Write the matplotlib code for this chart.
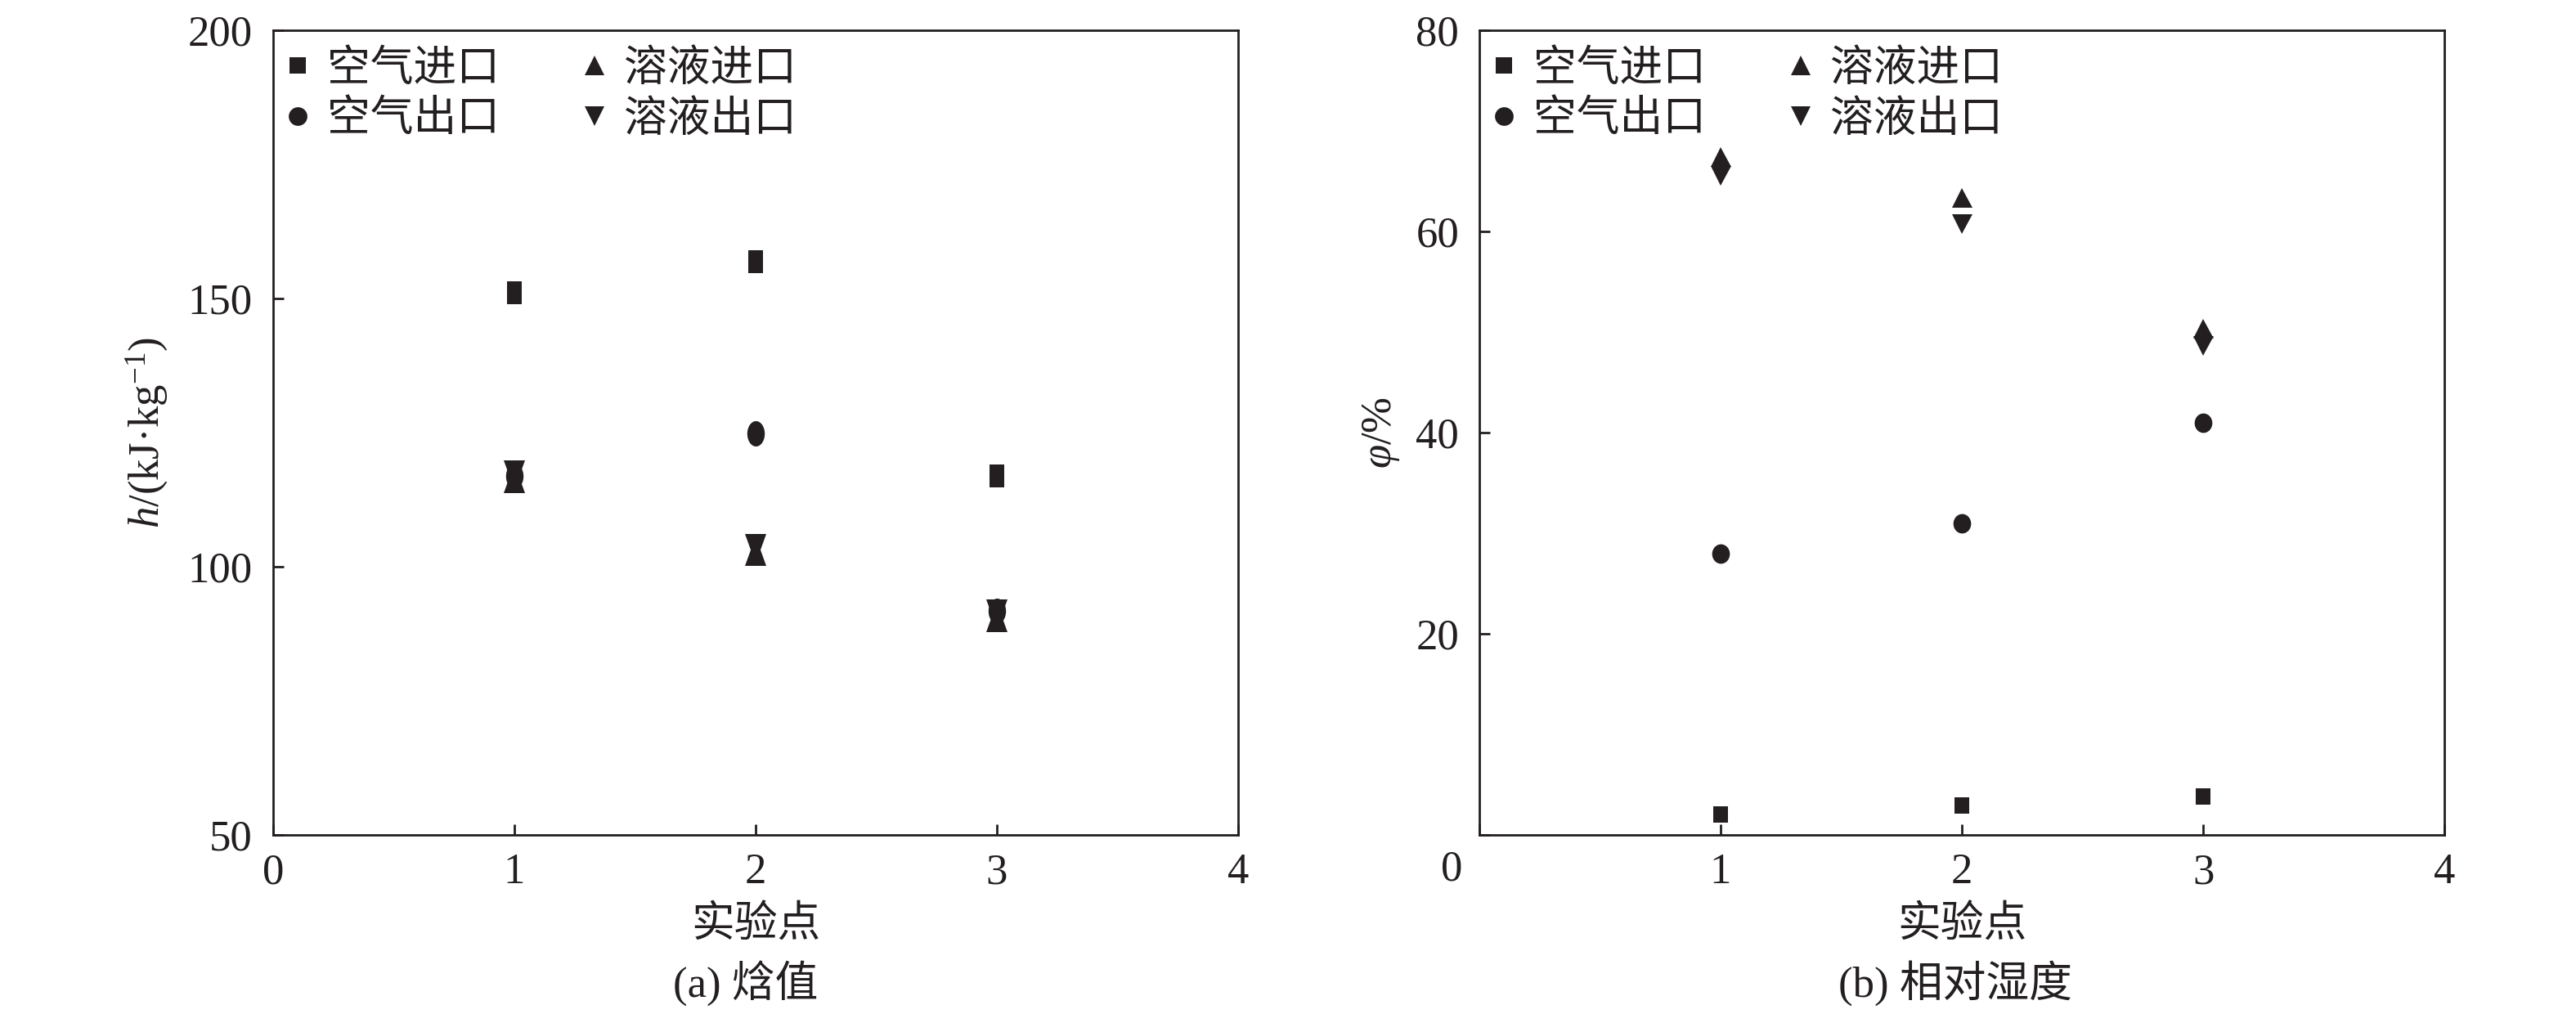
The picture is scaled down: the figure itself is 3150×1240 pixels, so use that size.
import matplotlib
matplotlib.use("Agg")
import matplotlib.pyplot as plt
from matplotlib.markers import MarkerStyle
from matplotlib.transforms import Affine2D
from matplotlib.lines import Line2D

plt.rcParams['font.family'] = ['Liberation Serif', 'Noto Sans CJK SC']
plt.rcParams['mathtext.fontset'] = 'custom'
plt.rcParams['mathtext.rm'] = 'Liberation Serif'
plt.rcParams['mathtext.it'] = 'Liberation Serif:italic'
plt.rcParams['axes.unicode_minus'] = True

# data
points = [1, 2, 3]
series_names = ["空气进口", "空气出口", "溶液进口", "溶液出口"]

h_air_in = [151.0, 156.9, 116.9]
h_air_out = [117.0, 124.9, 91.8]
h_sol_in = [116.5, 102.9, 90.6]
h_sol_out = [117.1, 103.3, 91.2]

phi_air_in = [2.0, 2.9, 3.8]
phi_air_out = [28.0, 31.0, 41.0]
phi_sol_in = [67.4, 63.3, 50.3]
phi_sol_out = [65.5, 60.7, 48.6]

x_ticks = [0, 1, 2, 3, 4]
h_ticks = [50, 100, 150, 200]
phi_ticks = [0, 20, 40, 60, 80]

ink = "#231f20"
fs = 19
markers = ["s", "o", "^", "v"]


def draw(ax, series, sizes, stretches):
    for ys, m, ms, st in zip(series, markers, sizes, stretches):
        mk = MarkerStyle(m, transform=Affine2D().scale(1.0, st))
        ax.plot(points, ys, ls="none", marker=mk, ms=ms, color=ink,
                markeredgewidth=0, clip_on=False)


def style(ax):
    for sp in ax.spines.values():
        sp.set_linewidth(1.0)
        sp.set_color(ink)
    ax.tick_params(direction="in", length=4.7, width=1.0, color=ink,
                   labelsize=fs, labelcolor=ink, top=False, right=False)
    ax.tick_params(axis="x", pad=8)
    ax.tick_params(axis="y", pad=9)
    ax.set_xlim(0, 4)
    ax.set_xticks(x_ticks)
    ax.set_xlabel("实验点", fontsize=fs, color=ink, va="center")
    ax.xaxis.set_label_coords(0.5, -0.112)
    handles = [Line2D([], [], ls="none", marker=m, ms=s, color=ink, markeredgewidth=0)
               for m, s in zip(markers, [7.4, 8.2, 8.6, 8.6])]
    ax.legend(handles, series_names, ncol=2, loc="upper left",
              bbox_to_anchor=(0.012, 0.976), frameon=False, fontsize=fs,
              borderaxespad=0, borderpad=0, handlelength=0.6,
              handletextpad=0.38, columnspacing=1.9, labelspacing=0.25,
              labelcolor=ink)


fig = plt.figure(figsize=(15.75, 6.2), dpi=200)
ax1 = fig.add_axes([0.1060, 0.1766, 0.3746, 0.7935])
ax2 = fig.add_axes([0.5743, 0.1766, 0.3746, 0.7935])

# (a) enthalpy
draw(ax1, [h_air_in, h_air_out, h_sol_in, h_sol_out],
     [6.8, 7.7, 9.3, 9.3], [1.45, 1.45, 1.42, 1.42])
style(ax1)
ax1.set_ylim(50, 200)
ax1.set_yticks(h_ticks)
ax1.set_ylabel(r"$h$/(kJ·kg$^{-1}$)", fontsize=fs, color=ink, va="center")
ax1.yaxis.set_label_coords(-0.131, 0.5)
ax1.text(0.49, -0.184, "(a) 焓值", transform=ax1.transAxes, ha="center",
         va="center", fontsize=fs, color=ink)

# (b) relative humidity
draw(ax2, [phi_air_in, phi_air_out, phi_sol_in, phi_sol_out],
     [6.8, 7.8, 9.0, 9.0], [1.08, 1.1, 0.95, 0.95])
style(ax2)
ax2.set_ylim(0, 80)
ax2.set_yticks(phi_ticks)
ax2.set_xticklabels([""] + [str(t) for t in x_ticks[1:]])
ax2.set_yticklabels([""] + [str(t) for t in phi_ticks[1:]])
ax2.text(-0.029, -0.043, "0", transform=ax2.transAxes, ha="center",
         va="center", fontsize=fs, color=ink)
ax2.set_ylabel(r"$\varphi$/%", fontsize=fs, color=ink, va="center")
ax2.yaxis.set_label_coords(-0.102, 0.5)
ax2.text(0.493, -0.184, "(b) 相对湿度", transform=ax2.transAxes, ha="center",
         va="center", fontsize=fs, color=ink)

fig.savefig("out.png", dpi=200)
